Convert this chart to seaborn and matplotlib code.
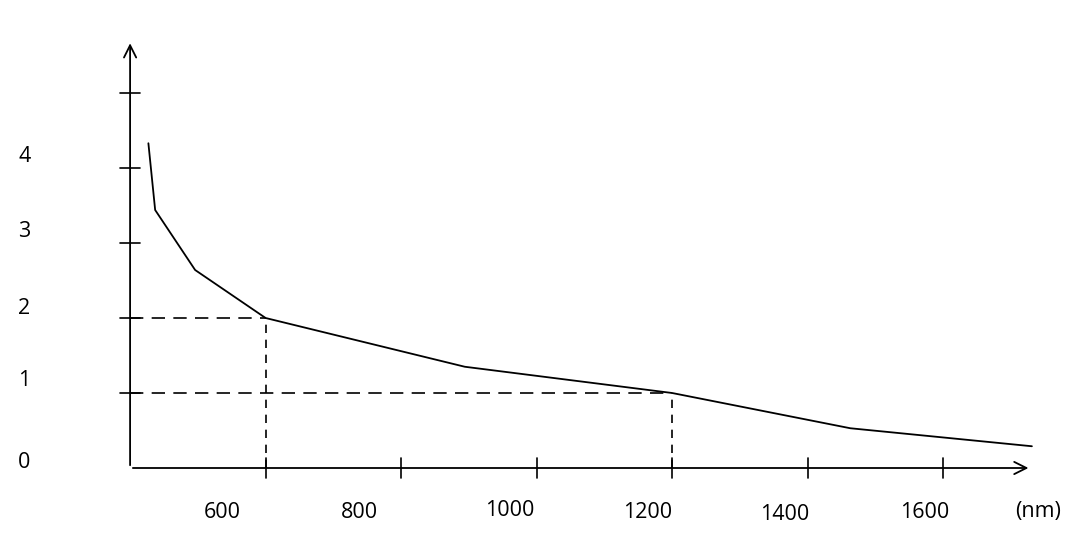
import numpy as np
import pandas as pd
import seaborn as sns
import matplotlib.pyplot as plt

# curve (wavelength nm, value)
wavelength = [427, 437, 496, 600, 894, 1200, 1463, 1731]
value = [4.33, 3.44, 2.64, 2.0, 1.35, 1.0, 0.53, 0.29]

x_ticks = [600, 800, 1000, 1200, 1400, 1600]
x_labels = ['600', '800', '1000', '1200', '1400', '1600']
y_ticks = [1, 2, 3, 4, 5]
y_labels = ['0', '1', '2', '3', '4']

sns.set_style('white')
plt.rcParams['font.family'] = ['Open Sans', 'DejaVu Sans']
plt.rcParams['text.color'] = 'black'

fig = plt.figure(figsize=(10.8, 5.52), dpi=100)
ax = fig.add_axes([0, 0, 1, 1])
ax.set_xlim(208, 1802)
ax.set_ylim(-1.12, 6.24)
ax.axis('off')

x0, y0 = 400, 0
# axes with arrows
ax.annotate('', xy=(1730, y0), xytext=(x0, y0),
            arrowprops=dict(arrowstyle='->', lw=1.3, color='black', mutation_scale=22))
ax.annotate('', xy=(x0, 5.7), xytext=(x0, y0),
            arrowprops=dict(arrowstyle='->', lw=1.3, color='black', mutation_scale=22))

# ticks crossing the axes
for t in x_ticks:
    ax.plot([t, t], [-0.13, 0.13], color='black', lw=1.2)
for t in y_ticks:
    ax.plot([x0 - 15, x0 + 15], [t, t], color='black', lw=1.2)

# dashed guides
for xv, yv in [(600, 2.0), (1200, 1.0)]:
    ax.plot([x0, xv], [yv, yv], color='black', lw=1.2, dashes=(8, 5))
    ax.plot([xv, xv], [0, yv], color='black', lw=1.2, dashes=(5, 4))

df = pd.DataFrame({'nm': wavelength, 'v': value})
sns.lineplot(data=df, x='nm', y='v', ax=ax, color='black', lw=1.3, sort=False)

# labels, offset like the drawing
x_label_pos = [536, 739, 961, 1164, 1366, 1573]
x_label_y = [-0.6, -0.6, -0.56, -0.6, -0.62, -0.6]
for xp, yp, lab in zip(x_label_pos, x_label_y, x_labels):
    ax.text(xp, yp, lab, fontsize=15.5, ha='center', va='center', color='black')
ax.text(1740, -0.58, '(nm)', fontsize=15.5, ha='center', va='center', color='black')
y_label_pos = [0.07, 1.17, 2.13, 3.15, 4.15]
for yp, lab in zip(y_label_pos, y_labels):
    ax.text(244, yp, lab, fontsize=15.5, ha='center', va='center', color='black')

fig.savefig('out.png', dpi=100)
